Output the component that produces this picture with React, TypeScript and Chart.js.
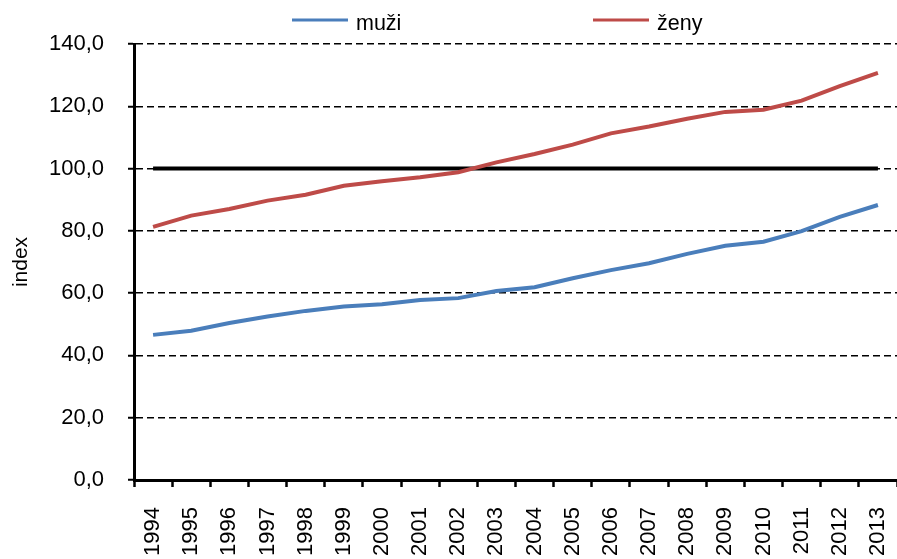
import React, { useEffect, useRef } from 'react';
import { Chart, registerables } from 'chart.js';

Chart.register(...registerables);

const years = ['1994', '1995', '1996', '1997', '1998', '1999', '2000', '2001', '2002', '2003', '2004', '2005', '2006', '2007', '2008', '2009', '2010', '2011', '2012', '2013'];
const muzi = [46.6, 47.9, 50.4, 52.5, 54.3, 55.7, 56.4, 57.8, 58.4, 60.7, 61.9, 64.8, 67.4, 69.6, 72.6, 75.2, 76.5, 79.9, 84.5, 88.3];
const zeny = [81.3, 84.9, 87.0, 89.7, 91.6, 94.5, 95.9, 97.2, 98.8, 102.0, 104.7, 107.7, 111.3, 113.5, 116.0, 118.2, 118.9, 121.8, 126.5, 130.7];
const base100 = [100, 100, 100, 100, 100, 100, 100, 100, 100, 100, 100, 100, 100, 100, 100, 100, 100, 100, 100, 100];
const yTickLabels = ['0,0', '20,0', '40,0', '60,0', '80,0', '100,0', '120,0', '140,0'];
const seriesLabels = ['muži', 'ženy'];
const yTitle = 'index';

const BLUE = '#4A7EBB';
const RED = '#BE4B48';
const FONT = '"Liberation Sans", Arial, sans-serif';

const legendPlugin = {
  id: 'customLegend',
  afterDraw(chart: any) {
    const ctx = chart.ctx;
    ctx.save();
    const startX = 292;
    const gap = 301;
    const lineY = 20;
    const lineLen = 56;
    chart.data.datasets.forEach((ds: any, i: number) => {
      if (!ds.inLegend) return;
      const x = startX + i * gap;
      ctx.strokeStyle = ds.borderColor;
      ctx.lineWidth = 3;
      ctx.beginPath();
      ctx.moveTo(x, lineY);
      ctx.lineTo(x + lineLen, lineY);
      ctx.stroke();
      ctx.fillStyle = '#000';
      ctx.font = `21.5px ${FONT}`;
      ctx.textBaseline = 'alphabetic';
      ctx.textAlign = 'left';
      ctx.fillText(ds.label, x + lineLen + 8, 29.5);
    });
    ctx.restore();
  },
};

export default function App() {
  const ref = useRef<HTMLCanvasElement | null>(null);
  useEffect(() => {
    document.body.style.margin = '0';
    if (!ref.current) return;
    const chart = new Chart(ref.current, {
      type: 'line',
      data: {
        labels: years,
        datasets: [
          { label: seriesLabels[0], data: muzi, borderColor: BLUE, backgroundColor: BLUE, borderWidth: 4, pointRadius: 0, tension: 0, inLegend: true } as any,
          { label: seriesLabels[1], data: zeny, borderColor: RED, backgroundColor: RED, borderWidth: 4, pointRadius: 0, tension: 0, inLegend: true } as any,
          { label: '100', data: base100, borderColor: '#000', backgroundColor: '#000', borderWidth: 4, pointRadius: 0, tension: 0 } as any,
        ],
      },
      options: {
        animation: false,
        responsive: true,
        maintainAspectRatio: false,
        layout: { padding: { top: 44, right: 0, left: 0, bottom: 0 } },
        plugins: {
          legend: { display: false },
          tooltip: { enabled: false },
        },
        scales: {
          x: {
            type: 'category',
            offset: true,
            grid: {
              display: true,
              drawOnChartArea: false,
              drawTicks: true,
              tickLength: 7,
              tickWidth: 2.5,
              tickColor: '#000',
              offset: true,
            },
            border: { display: true, color: '#000', width: 3 },
            ticks: {
              autoSkip: false,
              maxRotation: 90,
              minRotation: 90,
              padding: 20,
              color: '#000',
              font: { family: FONT, size: 22 },
            },
            afterFit: (scale: any) => {
              scale.height = 79;
              scale.paddingLeft = 0;
              scale.paddingRight = 0;
            },
          },
          y: {
            min: 0,
            max: 140,
            grid: {
              display: true,
              drawOnChartArea: true,
              drawTicks: true,
              tickLength: 6,
              tickWidth: 2,
              tickColor: '#000',
              color: '#000',
              lineWidth: 1.5,
            },
            border: { display: true, color: '#000', width: 3, dash: [7, 4] },
            ticks: {
              stepSize: 20,
              padding: 24,
              color: '#000',
              font: { family: FONT, size: 22 },
              callback: (_v: any, i: number) => yTickLabels[i],
            },
            title: {
              display: true,
              text: yTitle,
              color: '#000',
              font: { family: FONT, size: 21 },
              padding: { top: 9, bottom: 10 },
            },
            afterFit: (scale: any) => {
              scale.width = 134;
            },
          },
        },
      },
      plugins: [legendPlugin],
    });
    return () => chart.destroy();
  }, []);
  return (
    <div style={{ position: 'relative', width: '897px', height: '559px' }}>
      <canvas ref={ref} />
    </div>
  );
}
